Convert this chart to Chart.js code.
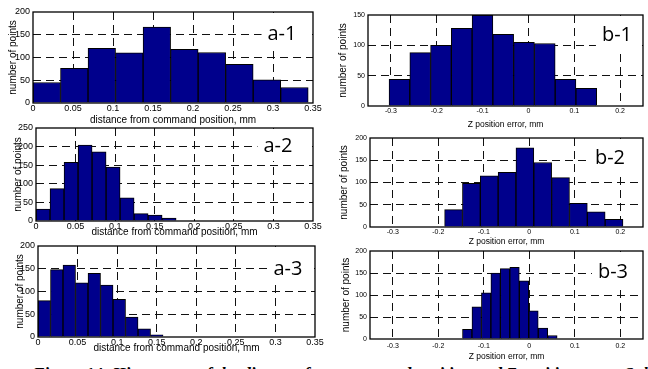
<!DOCTYPE html>
<html>
<head>
<meta charset="utf-8">
<script src="https://cdn.jsdelivr.net/npm/chart.js@4.4.0/dist/chart.umd.min.js"></script>
<style>
  html, body { margin: 0; padding: 0; background: #fff; }
  body { width: 648px; height: 369px; overflow: hidden; position: relative; }
  canvas { position: absolute; }
  #caption {
    position: absolute; left: 33px; top: 364.5px; white-space: nowrap;
    font: bold italic 17px "Liberation Serif", serif; line-height: 1; color: #000;
  }
</style>
</head>
<body>
<div id="caption">Figure 14: Histograms of the distance from command position and Z position error. Sub</div>
<script>
// tick labels
const aTicksX = [0, 0.05, 0.1, 0.15, 0.2, 0.25, 0.3, 0.35];
const bTicksX = [-0.3, -0.2, -0.1, 0, 0.1, 0.2];
const yTicks200 = [0, 50, 100, 150, 200];
const yTicks250 = [0, 50, 100, 150, 200, 250];
const yTicks150 = [0, 50, 100, 150];

// bin centres (mm) and counts
const a1Bins = [0.0172, 0.0516, 0.0860, 0.1204, 0.1548, 0.1892, 0.2236, 0.2580, 0.2924, 0.3268];
const a1Counts = [45, 76, 120, 110, 167, 118, 111, 85, 51, 34];

const a2Bins = [0.0089, 0.0266, 0.0443, 0.0620, 0.0797, 0.0974, 0.1151, 0.1328, 0.1505, 0.1682];
const a2Counts = [32, 87, 158, 204, 186, 145, 62, 20, 16, 8];

const a3Bins = [0.0079, 0.0237, 0.0395, 0.0553, 0.0711, 0.0869, 0.1027, 0.1185, 0.1343, 0.1501];
const a3Counts = [80, 148, 158, 119, 140, 114, 83, 44, 18, 5];

const b1Bins = [-0.2814, -0.2361, -0.1908, -0.1455, -0.1002, -0.0549, -0.0096, 0.0357, 0.0810, 0.1263];
const b1Counts = [44, 88, 100, 128, 150, 118, 105, 103, 44, 29];

const b2Bins = [-0.1664, -0.1272, -0.0880, -0.0488, -0.0096, 0.0296, 0.0688, 0.1080, 0.1472, 0.1864];
const b2Counts = [39, 98, 115, 123, 178, 145, 111, 53, 34, 17];

const b3Bins = [-0.1363, -0.1155, -0.0947, -0.0739, -0.0531, -0.0323, -0.0115, 0.0093, 0.0301, 0.0509];
const b3Counts = [22, 73, 105, 150, 160, 163, 132, 64, 25, 8];

const distTitle = 'distance from command position, mm';
const zTitle = 'Z position error, mm';

// frame box + white tag box with panel name
const framePlugin = {
  id: 'frame',
  afterDraw(chart, args, opts) {
    const { ctx, chartArea: a } = chart;
    ctx.save();
    ctx.font = '20px "Open Sans"';
    const w = ctx.measureText(opts.tag).width;
    const x0 = opts.tx - w / 2 - 6;
    ctx.fillStyle = '#fff';
    ctx.fillRect(x0, a.top + 1, a.right - 1 - x0, opts.ty - a.top + 14);
    ctx.fillStyle = '#000';
    ctx.textAlign = 'center';
    ctx.textBaseline = 'middle';
    ctx.fillText(opts.tag, opts.tx, opts.ty);
    ctx.strokeStyle = '#000';
    ctx.lineWidth = 1.3;
    ctx.strokeRect(a.left, a.top, a.right - a.left, a.bottom - a.top);
    ctx.restore();
  }
};

function makePanel(p) {
  const top = p.T - 8;
  const width = Math.min(p.R + 12, 648) - p.cl;
  const height = p.xl + 7 - top;
  const cv = document.createElement('canvas');
  cv.width = width; cv.height = height;
  cv.style.left = p.cl + 'px'; cv.style.top = top + 'px';
  document.body.appendChild(cv);

  const yW = p.L - p.cl;
  const xH = height - (p.B - top);
  const lhY = 1.2 * p.fy, lhX = 1.2 * p.fx;
  const xLo = p.xMin, xHi = p.xMax;
  const yLo = p.yTicks[0], yHi = p.yTicks[p.yTicks.length - 1];
  const gridColor = (lo, hi) => c =>
    (c.tick && (Math.abs(c.tick.value - lo) < 1e-9 || Math.abs(c.tick.value - hi) < 1e-9)) ? 'rgba(0,0,0,0)' : '#111';

  new Chart(cv, {
    type: 'bar',
    data: {
      datasets: [{
        data: p.bins.map((b, i) => ({ x: b, y: p.counts[i] })),
        backgroundColor: '#00008c',
        borderColor: '#000',
        borderWidth: 1,
        barPercentage: 1,
        categoryPercentage: 1
      }]
    },
    options: {
      responsive: false,
      animation: false,
      events: [],
      layout: { padding: { left: 0, top: 8, right: width - (p.R - p.cl), bottom: 0 } },
      plugins: {
        legend: { display: false },
        tooltip: { enabled: false },
        frame: { tag: p.tag, tx: p.tx - p.cl, ty: p.ty - top }
      },
      scales: {
        x: {
          type: 'linear',
          min: xLo, max: xHi,
          offset: false,
          afterBuildTicks: s => { s.ticks = p.xTicks.map(v => ({ value: v })); },
          afterFit: s => { s.height = xH; s.paddingLeft = 0; s.paddingRight = 0; },
          grid: { offset: false, drawTicks: false, color: gridColor(xLo, xHi), lineWidth: 1 },
          border: { display: false, dash: [8, 5] },
          ticks: {
            autoSkip: false, maxRotation: 0, padding: p.tp,
            color: '#000', font: { family: 'Liberation Sans', size: p.ft },
            callback: v => String(v)
          },
          title: {
            display: true, text: p.xTitle, color: '#000',
            font: { family: 'Liberation Sans', size: p.fx },
            padding: { top: 0, bottom: 7 - lhX / 2 }
          }
        },
        y: {
          min: yLo, max: yHi,
          afterBuildTicks: s => { s.ticks = p.yTicks.map(v => ({ value: v })); },
          afterFit: s => { s.width = yW; s.paddingTop = 0; s.paddingBottom = 0; },
          grid: { drawTicks: false, color: gridColor(yLo, yHi), lineWidth: 1 },
          border: { display: false, dash: [8, 5] },
          ticks: {
            padding: 3, color: '#000',
            font: { family: 'Liberation Sans', size: p.ft },
            callback: v => String(v)
          },
          title: {
            display: true, text: 'number of points', color: '#000',
            font: { family: 'Liberation Sans', size: p.fy },
            padding: { top: p.yt - p.cl - lhY / 2, bottom: 0 }
          }
        }
      }
    },
    plugins: [framePlugin]
  });
}

makePanel({ tag: 'a-1', bins: a1Bins, counts: a1Counts, xTicks: aTicksX, xMin: 0, xMax: 0.35, yTicks: yTicks200,
  xTitle: distTitle, cl: 0, L: 33, T: 12, R: 313, B: 103, yt: 13, xl: 120, tp: 0, ft: 9, fx: 10, fy: 10, tx: 282, ty: 34 });
makePanel({ tag: 'a-2', bins: a2Bins, counts: a2Counts, xTicks: aTicksX, xMin: 0, xMax: 0.35, yTicks: yTicks250,
  xTitle: distTitle, cl: 0, L: 36, T: 128, R: 313, B: 221, yt: 18, xl: 232, tp: 0, ft: 9, fx: 10, fy: 10, tx: 278, ty: 146 });
makePanel({ tag: 'a-3', bins: a3Bins, counts: a3Counts, xTicks: aTicksX, xMin: 0, xMax: 0.35, yTicks: yTicks200,
  xTitle: distTitle, cl: 0, L: 38, T: 246, R: 315, B: 337, yt: 20, xl: 348, tp: 0, ft: 9, fx: 10, fy: 10, tx: 288, ty: 269 });
makePanel({ tag: 'b-1', bins: b1Bins, counts: b1Counts, xTicks: bTicksX, xMin: -0.35, xMax: 0.25, yTicks: yTicks150,
  xTitle: zTitle, cl: 330, L: 368, T: 15, R: 643, B: 106, yt: 343, xl: 125, tp: 1, ft: 7, fx: 8.5, fy: 10, tx: 617, ty: 35 });
makePanel({ tag: 'b-2', bins: b2Bins, counts: b2Counts, xTicks: bTicksX, xMin: -0.35, xMax: 0.25, yTicks: yTicks200,
  xTitle: zTitle, cl: 330, L: 370, T: 138, R: 643, B: 227, yt: 344, xl: 242, tp: 1, ft: 7, fx: 8.5, fy: 10, tx: 610, ty: 158 });
makePanel({ tag: 'b-3', bins: b3Bins, counts: b3Counts, xTicks: bTicksX, xMin: -0.35, xMax: 0.25, yTicks: yTicks200,
  xTitle: zTitle, cl: 330, L: 370, T: 251, R: 643, B: 339, yt: 346, xl: 357, tp: 2.5, ft: 7, fx: 8.5, fy: 10, tx: 613, ty: 272 });
</script>
</body>
</html>
